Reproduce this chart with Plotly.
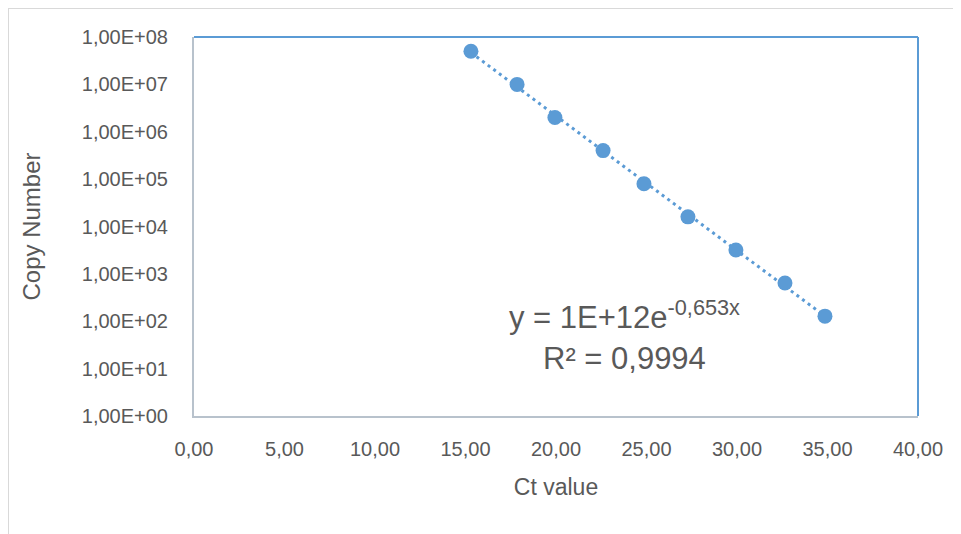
import numpy as np
import plotly.graph_objects as go

ct_values = [15.30, 17.85, 19.94, 22.60, 24.86, 27.29, 29.94, 32.65, 34.86]
copy_numbers = [5.0e7, 1.0e7, 2.0e6, 4.0e5, 8.0e4, 1.6e4, 3.2e3, 6.4e2, 1.28e2]
x_tick_vals = [0, 5, 10, 15, 20, 25, 30, 35, 40]
x_tick_text = ["0,00", "5,00", "10,00", "15,00", "20,00", "25,00", "30,00", "35,00", "40,00"]
y_tick_vals = [1e0, 1e1, 1e2, 1e3, 1e4, 1e5, 1e6, 1e7, 1e8]
y_tick_text = ["1,00E+00", "1,00E+01", "1,00E+02", "1,00E+03", "1,00E+04",
               "1,00E+05", "1,00E+06", "1,00E+07", "1,00E+08"]
eq_text = "y = 1E+12e<sup>-0,653x</sup>"
r2_text = "R² = 0,9994"

# exponential trendline via least squares on ln(y)
b, ln_a = np.polyfit(ct_values, np.log(copy_numbers), 1)
trend_x = [min(ct_values), max(ct_values)]
trend_y = [float(np.exp(ln_a + b * v)) for v in trend_x]

BLUE = "#5B9BD5"
TXT = "#595959"
FONT = "Liberation Sans"

fig = go.Figure()
fig.add_trace(go.Scatter(x=trend_x, y=trend_y, mode="lines",
                         line=dict(color=BLUE, width=3, dash="3px,4px"),
                         hoverinfo="skip", showlegend=False))
fig.add_trace(go.Scatter(x=ct_values, y=copy_numbers, mode="markers",
                         marker=dict(color=BLUE, size=15, line=dict(width=0)),
                         showlegend=False))

fig.update_layout(
    width=961, height=534,
    margin=dict(l=186, r=51, t=29, b=126),
    paper_bgcolor="white", plot_bgcolor="white",
    font=dict(family=FONT, color=TXT, size=20),
    xaxis=dict(range=[0, 40], tickvals=x_tick_vals, ticktext=x_tick_text,
               showgrid=False, zeroline=False, showline=True,
               linecolor="#B8C2CC", linewidth=2, ticks="", ticklen=0,
               ticklabelstandoff=14,
               tickfont=dict(size=20, color=TXT),
               title=dict(text="Ct value", font=dict(size=23, color=TXT), standoff=20)),
    yaxis=dict(type="log", range=[0, 8], tickvals=y_tick_vals, ticktext=y_tick_text,
               showgrid=False, zeroline=False, showline=True,
               linecolor="#B8C2CC", linewidth=2, ticks="", ticklen=0,
               ticklabelstandoff=20,
               tickfont=dict(size=20, color=TXT),
               title=dict(text="Copy Number", font=dict(size=24, color=TXT), standoff=34)),
    shapes=[
        dict(type="line", xref="paper", yref="paper", x0=0, x1=1, y0=1, y1=1,
             line=dict(color=BLUE, width=2)),
        dict(type="line", xref="paper", yref="paper", x0=1, x1=1, y0=0, y1=1,
             line=dict(color=BLUE, width=2)),
        dict(type="line", xref="paper", yref="paper", x0=-0.2569, x1=1.1, y0=1.0765, y1=1.0765,
             line=dict(color="#D9D9D9", width=2)),
        dict(type="line", xref="paper", yref="paper", x0=-0.2569, x1=-0.2569, y0=-0.35, y1=1.0765,
             line=dict(color="#D9D9D9", width=2)),
    ],
    annotations=[
        dict(x=0.595, y=0.266, xref="paper", yref="paper", text=eq_text, showarrow=False,
             font=dict(size=31, color=TXT), xanchor="center", yanchor="middle"),
        dict(x=0.595, y=0.152, xref="paper", yref="paper", text=r2_text, showarrow=False,
             font=dict(size=31, color=TXT), xanchor="center", yanchor="middle"),
    ],
)

fig.write_html("out.html")
